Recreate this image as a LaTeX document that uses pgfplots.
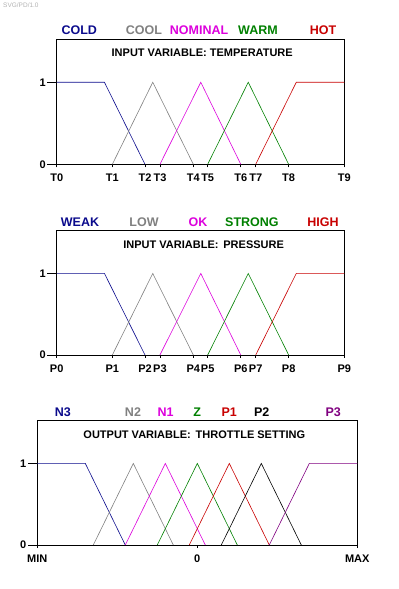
\documentclass[border=0pt]{standalone}
\usepackage{fontspec}
\setmainfont{Liberation Sans}
\usepackage{pgfplots}
\pgfplotsset{compat=1.18}
\definecolor{cnavy}{RGB}{10,10,140}
\definecolor{cgray}{RGB}{128,128,128}
\definecolor{cmag}{RGB}{220,0,220}
\definecolor{cgreen}{RGB}{0,128,0}
\definecolor{cred}{RGB}{200,0,0}
\definecolor{cpurp}{RGB}{128,0,128}
\pgfplotsset{
  fz/.style={
    scale only axis, clip=false, anchor=south west,
    axis line style={line width=0.8bp, black},
    tick align=outside, tick pos=left, major tick length=3bp,
    ymin=0, ymax=1.524, ytick={0,1}, yticklabels={0,1},
    tick style={black, line width=0.8bp},
    ticklabel style={font=\fontsize{11bp}{11bp}\selectfont\bfseries},
    xticklabel style={yshift=-3.5bp},
    yticklabel style={xshift=-4.5bp},
    every axis plot/.append style={line width=0.6bp, mark=none},
  },
}
\tikzset{
  lab/.style={font=\fontsize{12.5bp}{12.5bp}\selectfont\bfseries, inner sep=0pt},
  ttl/.style={font=\fontsize{11bp}{11bp}\selectfont\bfseries, inner sep=0pt},
  ytk/.style={line width=0.8bp, black},
}
\begin{document}
\begin{tikzpicture}
\path[use as bounding box] (0bp,0bp) rectangle (399bp,589bp);
\node[anchor=north west, text=black!30, font=\fontsize{6.5bp}{6.5bp}\selectfont, inner sep=0pt] at (3bp,586bp) {SVG/PD/1.0};

% Panel 1: temperature
\begin{axis}[fz, at={(56.7bp,424.7bp)}, width=287.6bp, height=125bp,
  xmin=0, xmax=100,
  xtick={0,19.35,30.7,35.9,47.5,52.5,64.0,69.2,80.65,100},
  xticklabels={T0,T1,T2,T3,T4,T5,T6,T7,T8,T9}]
\addplot[cnavy] coordinates {(0,1) (16.6,1) (30.7,0)};
\addplot[cgray] coordinates {(19.35,0) (33.4,1) (47.5,0)};
\addplot[cmag] coordinates {(35.9,0) (50.1,1) (64.0,0)};
\addplot[cgreen] coordinates {(52.5,0) (66.6,1) (80.65,0)};
\addplot[cred] coordinates {(69.2,0) (83.3,1) (100,1)};
\draw[ytk] (axis cs:0,0) -- ++(-9.5bp,0bp);
\draw[ytk] (axis cs:0,1) -- ++(-9.5bp,0bp);
\node[lab, text=cnavy] at (axis cs:7.86,1.629) {COLD};
\node[lab, text=cgray] at (axis cs:30.35,1.629) {COOL};
\node[lab, text=cmag] at (axis cs:49.5,1.629) {NOMINAL};
\node[lab, text=cgreen] at (axis cs:70.0,1.629) {WARM};
\node[lab, text=cred] at (axis cs:92.6,1.629) {HOT};
\node[ttl] at (axis cs:50.6,1.354) {INPUT VARIABLE: TEMPERATURE};
\end{axis}

% Panel 2: pressure
\begin{axis}[fz, at={(56.7bp,234bp)}, width=287.6bp, height=124.3bp,
  xmin=0, xmax=100,
  xtick={0,19.35,30.7,35.9,47.5,52.5,64.0,69.2,80.65,100},
  xticklabels={P0,P1,P2,P3,P4,P5,P6,P7,P8,P9}]
\addplot[cnavy] coordinates {(0,1) (16.6,1) (30.7,0)};
\addplot[cgray] coordinates {(19.35,0) (33.4,1) (47.5,0)};
\addplot[cmag] coordinates {(35.9,0) (50.1,1) (64.0,0)};
\addplot[cgreen] coordinates {(52.5,0) (66.6,1) (80.65,0)};
\addplot[cred] coordinates {(69.2,0) (83.3,1) (100,1)};
\draw[ytk] (axis cs:0,0) -- ++(-9.5bp,0bp);
\draw[ytk] (axis cs:0,1) -- ++(-9.5bp,0bp);
\node[lab, text=cnavy] at (axis cs:8.1,1.629) {WEAK};
\node[lab, text=cgray] at (axis cs:30.35,1.629) {LOW};
\node[lab, text=cmag] at (axis cs:49.1,1.629) {OK};
\node[lab, text=cgreen] at (axis cs:67.9,1.629) {STRONG};
\node[lab, text=cred] at (axis cs:92.6,1.629) {HIGH};
\node[ttl] at (axis cs:51.1,1.354) {INPUT VARIABLE:\, PRESSURE};
\end{axis}

% Panel 3: throttle
\begin{axis}[fz, at={(37.3bp,44bp)}, width=320bp, height=124.3bp,
  xmin=-100, xmax=100,
  xtick={-100,0,100},
  xticklabels={MIN,0,MAX}]
\addplot[cnavy] coordinates {(-100,1) (-70,1) (-45,0)};
\addplot[cgray] coordinates {(-65,0) (-40,1) (-15,0)};
\addplot[cmag] coordinates {(-45,0) (-20,1) (5,0)};
\addplot[cgreen] coordinates {(-25,0) (0,1) (25,0)};
\addplot[cred] coordinates {(-5,0) (20,1) (45,0)};
\addplot[black] coordinates {(15,0) (40,1) (65,0)};
\addplot[cpurp] coordinates {(45,0) (70,1) (100,1)};
\draw[ytk] (axis cs:-100,0) -- ++(-9.5bp,0bp);
\draw[ytk] (axis cs:-100,1) -- ++(-9.5bp,0bp);
\node[lab, text=cnavy] at (axis cs:-84.1,1.629) {N3};
\node[lab, text=cgray] at (axis cs:-40.2,1.629) {N2};
\node[lab, text=cmag] at (axis cs:-19.75,1.629) {N1};
\node[lab, text=cgreen] at (axis cs:0,1.629) {Z};
\node[lab, text=cred] at (axis cs:20,1.629) {P1};
\node[lab, text=black] at (axis cs:40.25,1.629) {P2};
\node[lab, text=cpurp] at (axis cs:85,1.629) {P3};
\node[ttl] at (axis cs:-1.9,1.355) {OUTPUT VARIABLE:\, THROTTLE SETTING};
\end{axis}
\end{tikzpicture}
\end{document}
